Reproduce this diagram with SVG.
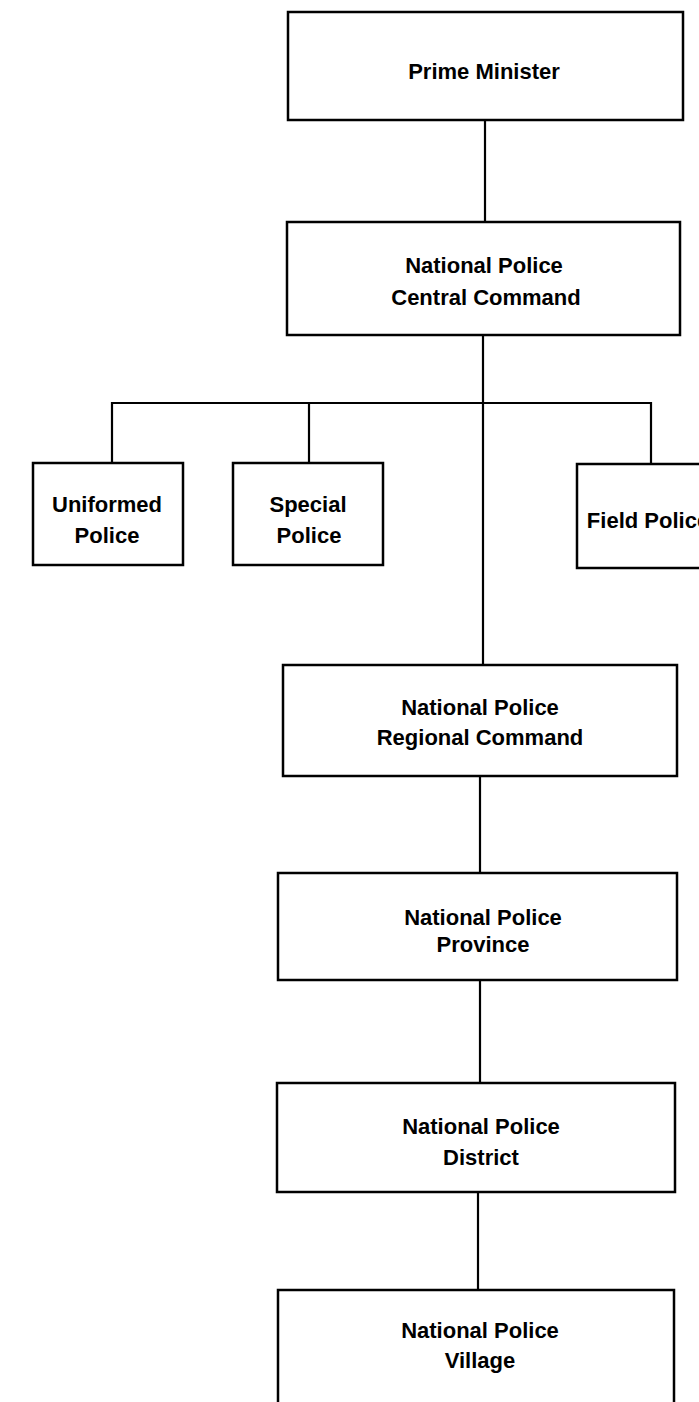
<svg xmlns="http://www.w3.org/2000/svg" width="699" height="1402" viewBox="0 0 699 1402">
  <style>
    .box { fill: #ffffff; stroke: #000000; stroke-width: 2.5; }
    .link { fill: none; stroke: #000000; stroke-width: 2.2; }
    .label { font-family: "Liberation Sans", Arial, sans-serif; font-weight: bold; font-size: 22px; fill: #000000; text-anchor: middle; }
  </style>
  <rect x="0" y="0" width="699" height="1402" fill="#ffffff"/>

  <!-- connectors -->
  <g id="connectors">
    <line class="link" x1="485" y1="120" x2="485" y2="222"/>
    <line class="link" x1="483" y1="335" x2="483" y2="665"/>
    <polyline class="link" points="112,463 112,403 651,403 651,464"/>
    <line class="link" x1="309" y1="403" x2="309" y2="463"/>
    <line class="link" x1="480" y1="776" x2="480" y2="873"/>
    <line class="link" x1="480" y1="980" x2="480" y2="1083"/>
    <line class="link" x1="478" y1="1192" x2="478" y2="1290"/>
  </g>

  <g id="prime-minister">
    <rect class="box" x="288" y="12" width="395" height="108"/>
    <text class="label" x="484" y="79">Prime Minister</text>
  </g>

  <g id="central-command">
    <rect class="box" x="287" y="222" width="393" height="113"/>
    <text class="label" x="484" y="273">National Police</text>
    <text class="label" x="486" y="305">Central Command</text>
  </g>

  <g id="uniformed-police">
    <rect class="box" x="33" y="463" width="150" height="102"/>
    <text class="label" x="107" y="512">Uniformed</text>
    <text class="label" x="107" y="543">Police</text>
  </g>

  <g id="special-police">
    <rect class="box" x="233" y="463" width="150" height="102"/>
    <text class="label" x="308" y="512">Special</text>
    <text class="label" x="309" y="543">Police</text>
  </g>

  <g id="field-police">
    <rect class="box" x="577" y="464" width="150" height="104"/>
    <text class="label" x="648" y="528">Field Police</text>
  </g>

  <g id="regional-command">
    <rect class="box" x="283" y="665" width="394" height="111"/>
    <text class="label" x="480" y="715">National Police</text>
    <text class="label" x="480" y="745">Regional Command</text>
  </g>

  <g id="province">
    <rect class="box" x="278" y="873" width="399" height="107"/>
    <text class="label" x="483" y="925">National Police</text>
    <text class="label" x="483" y="952">Province</text>
  </g>

  <g id="district">
    <rect class="box" x="277" y="1083" width="398" height="109"/>
    <text class="label" x="481" y="1134">National Police</text>
    <text class="label" x="481" y="1165">District</text>
  </g>

  <g id="village">
    <rect class="box" x="278" y="1290" width="396" height="140"/>
    <text class="label" x="480" y="1338">National Police</text>
    <text class="label" x="480" y="1368">Village</text>
  </g>
</svg>
